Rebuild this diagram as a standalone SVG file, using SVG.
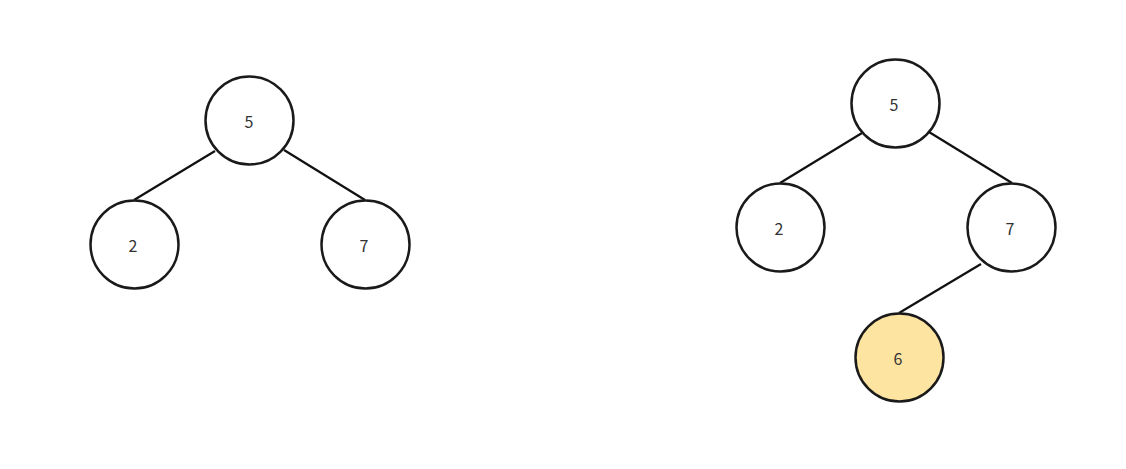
<svg xmlns="http://www.w3.org/2000/svg" width="1126" height="469" viewBox="0 0 1126 469">
<style>
.n{fill:#fff;stroke:#1a1a1a;stroke-width:2.5}
.h{fill:#fee4a1}
.t{font-family:"Noto Sans CJK SC","Noto Sans",sans-serif;font-size:16px;fill:#333;text-anchor:middle;dominant-baseline:central}
.e{stroke:#111;stroke-width:2.2;fill:none}
</style>
<rect width="1126" height="469" fill="#fff"/>
<g id="connectors">
<line class="e" x1="215" y1="151" x2="134" y2="200"/>
<line class="e" x1="284" y1="150" x2="365" y2="200"/>
<line class="e" x1="862" y1="133" x2="780" y2="183"/>
<line class="e" x1="929" y1="132" x2="1012" y2="183"/>
<line class="e" x1="981" y1="264" x2="899" y2="313"/>
</g>
<g id="a5"><circle class="n" cx="249.5" cy="120.5" r="44"/><text class="t" x="249" y="121">5</text></g>
<g id="a2"><circle class="n" cx="134.5" cy="244.5" r="44"/><text class="t" x="133" y="245">2</text></g>
<g id="a7"><circle class="n" cx="365.5" cy="244.5" r="44"/><text class="t" x="364" y="245">7</text></g>
<g id="b5"><circle class="n" cx="895.5" cy="103.5" r="44"/><text class="t" x="894" y="104">5</text></g>
<g id="b2"><circle class="n" cx="780.5" cy="227.5" r="44"/><text class="t" x="779" y="228">2</text></g>
<g id="b7"><circle class="n" cx="1011.5" cy="227.5" r="44"/><text class="t" x="1010" y="228">7</text></g>
<g id="b6"><circle class="n h" cx="899.5" cy="357.5" r="44"/><text class="t" x="898" y="358">6</text></g>
</svg>
